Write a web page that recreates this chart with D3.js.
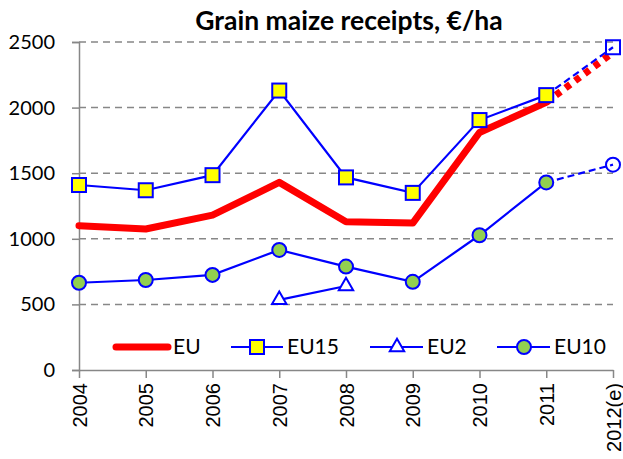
<!DOCTYPE html>
<html>
<head>
<meta charset="utf-8">
<title>Grain maize receipts</title>
<script src="https://cdnjs.cloudflare.com/ajax/libs/d3/7.8.5/d3.min.js"></script>
<style>
  body { margin: 0; background: #fff; }
  svg { display: block; }
  .ylab { font-family: Lato, "Open Sans", sans-serif; font-size: 20px; fill: #000; }
  .xlab { font-family: "Liberation Sans", Arial, sans-serif; font-size: 20px; fill: #000; }
  .leg { font-family: Lato, "Open Sans", sans-serif; font-size: 21px; fill: #000; }
  .title { font-family: Lato, "Open Sans", sans-serif; font-size: 26.5px; font-weight: bold; fill: #000; }
</style>
</head>
<body>
<svg width="623" height="459"></svg>
<script>
// values, €/ha
var years = ["2004", "2005", "2006", "2007", "2008", "2009", "2010", "2011", "2012(e)"];
var eu   = [1100, 1075, 1180, 1430, 1130, 1120, 1810, 2040, 2420];
var eu15 = [1410, 1370, 1485, 2130, 1468, 1350, 1905, 2095, 2460];
var eu2  = [null, null, null, 535, 640, null, null, null, null];
var eu10 = [665, 686, 725, 915, 788, 672, 1027, 1430, 1565];
var yTicks = [0, 500, 1000, 1500, 2000, 2500];
var lastReal = 7; // 2012 is an estimate

var blue = "#0000ff", red = "#ff0000", grey = "#878787";

var svg = d3.select("svg");
var x = d3.scalePoint().domain(years).range([79, 613]);
var y = d3.scaleLinear().domain([0, 2500]).range([370, 42]);

// gridlines
svg.append("g")
  .selectAll("line")
  .data(yTicks.filter(function(d) { return d > 0; }))
  .enter().append("line")
  .attr("x1", 79).attr("x2", 613)
  .attr("y1", function(d) { return y(d); })
  .attr("y2", function(d) { return y(d); })
  .attr("stroke", grey).attr("stroke-width", 1.5)
  .attr("stroke-dasharray", "7,5");

// y axis
var yAxis = svg.append("g").attr("transform", "translate(79,0)")
  .call(d3.axisLeft(y).tickValues(yTicks).tickSize(7).tickFormat(d3.format("d")));
yAxis.selectAll("path,line").attr("stroke", grey).attr("stroke-width", 1.5);
yAxis.selectAll("text").attr("class", "ylab").attr("x", -24).attr("font-size", null).attr("font-family", null);

// x axis
var xAxis = svg.append("g").attr("transform", "translate(0,370)")
  .call(d3.axisBottom(x).tickSize(8).tickSizeOuter(0));
xAxis.selectAll("path,line").attr("stroke", grey).attr("stroke-width", 1.5);
xAxis.selectAll("text")
  .attr("class", "xlab").attr("font-size", null).attr("font-family", null)
  .attr("text-anchor", "end")
  .attr("transform", "rotate(-90)")
  .attr("x", -13).attr("y", 0).attr("dy", "0.35em");

function pts(arr) {
  return arr.map(function(v, i) { return { k: years[i], v: v, i: i }; });
}
var line = d3.line()
  .defined(function(d) { return d.v != null; })
  .x(function(d) { return x(d.k); })
  .y(function(d) { return y(d.v); });

// EU solid
svg.append("path").datum(pts(eu).slice(0, lastReal + 1))
  .attr("d", line).attr("fill", "none")
  .attr("stroke", red).attr("stroke-width", 7)
  .attr("stroke-linejoin", "round").attr("stroke-linecap", "round");

// blue lines
[eu15, eu2, eu10].forEach(function(s) {
  svg.append("path").datum(pts(s).slice(0, lastReal + 1))
    .attr("d", line).attr("fill", "none")
    .attr("stroke", blue).attr("stroke-width", 2.2);
});

// projections
[eu15, eu10].forEach(function(s) {
  svg.append("path").datum(pts(s).slice(lastReal))
    .attr("d", line).attr("fill", "none")
    .attr("stroke", blue).attr("stroke-width", 2.2)
    .attr("stroke-dasharray", "7,4");
});
svg.append("path").datum(pts(eu).slice(lastReal))
  .attr("d", line).attr("fill", "none")
  .attr("stroke", red).attr("stroke-width", 7)
  .attr("stroke-dasharray", "6,6");

// markers
function squares(s) {
  svg.append("g").selectAll("rect")
    .data(pts(s).filter(function(d) { return d.v != null; }))
    .enter().append("rect")
    .attr("x", function(d) { return x(d.k) - 7; })
    .attr("y", function(d) { return y(d.v) - 7; })
    .attr("width", 14).attr("height", 14)
    .attr("fill", function(d) { return d.i > lastReal ? "none" : "#ffff00"; })
    .attr("stroke", blue).attr("stroke-width", 2);
}
function circles(s) {
  svg.append("g").selectAll("circle")
    .data(pts(s).filter(function(d) { return d.v != null; }))
    .enter().append("circle")
    .attr("cx", function(d) { return x(d.k); })
    .attr("cy", function(d) { return y(d.v); })
    .attr("r", 7)
    .attr("fill", function(d) { return d.i > lastReal ? "none" : "#92d050"; })
    .attr("stroke", blue).attr("stroke-width", 2);
}
var tri = d3.symbol().type(d3.symbolTriangle).size(90);
function triangles(s) {
  svg.append("g").selectAll("path")
    .data(pts(s).filter(function(d) { return d.v != null; }))
    .enter().append("path")
    .attr("d", tri)
    .attr("transform", function(d) { return "translate(" + x(d.k) + "," + y(d.v) + ")"; })
    .attr("fill", "#fff").attr("stroke", blue).attr("stroke-width", 2);
}
squares(eu15);
triangles(eu2);
circles(eu10);

// legend
var ly = 347;
var leg = svg.append("g");
leg.append("line").attr("x1", 116).attr("x2", 168).attr("y1", ly).attr("y2", ly)
  .attr("stroke", red).attr("stroke-width", 7).attr("stroke-linecap", "round");
leg.append("text").attr("class", "leg").attr("x", 173).attr("y", ly).attr("dy", "0.35em").text("EU");

leg.append("line").attr("x1", 231).attr("x2", 283).attr("y1", ly).attr("y2", ly)
  .attr("stroke", blue).attr("stroke-width", 2.2);
leg.append("rect").attr("x", 257 - 7).attr("y", ly - 7).attr("width", 14).attr("height", 14)
  .attr("fill", "#ffff00").attr("stroke", blue).attr("stroke-width", 2);
leg.append("text").attr("class", "leg").attr("x", 287).attr("y", ly).attr("dy", "0.35em").text("EU15");

leg.append("line").attr("x1", 370).attr("x2", 423).attr("y1", ly).attr("y2", ly)
  .attr("stroke", blue).attr("stroke-width", 2.2);
leg.append("path").attr("d", tri).attr("transform", "translate(397," + ly + ")")
  .attr("fill", "#fff").attr("stroke", blue).attr("stroke-width", 2);
leg.append("text").attr("class", "leg").attr("x", 427).attr("y", ly).attr("dy", "0.35em").text("EU2");

leg.append("line").attr("x1", 497).attr("x2", 550).attr("y1", ly).attr("y2", ly)
  .attr("stroke", blue).attr("stroke-width", 2.2);
leg.append("circle").attr("cx", 524).attr("cy", ly).attr("r", 7)
  .attr("fill", "#92d050").attr("stroke", blue).attr("stroke-width", 2);
leg.append("text").attr("class", "leg").attr("x", 554).attr("y", ly).attr("dy", "0.35em").text("EU10");

// title
svg.append("text").attr("class", "title")
  .attr("x", 349).attr("y", 30).attr("text-anchor", "middle")
  .text("Grain maize receipts, €/ha");
</script>
</body>
</html>
